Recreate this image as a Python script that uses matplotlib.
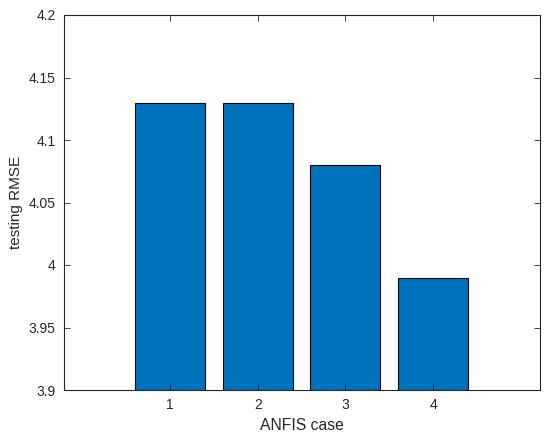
import matplotlib
matplotlib.use("Agg")
import matplotlib.pyplot as plt

cases = [1, 2, 3, 4]
rmse = [4.13, 4.13, 4.08, 3.99]
yticks = [3.9, 3.95, 4.0, 4.05, 4.1, 4.15, 4.2]
ytick_labels = ["3.9", "3.95", "4", "4.05", "4.1", "4.15", "4.2"]

plt.rcParams['font.family'] = ['Liberation Sans', 'DejaVu Sans']

fig = plt.figure(figsize=(5.5, 4.38), dpi=100)
ax = fig.add_axes([64/550, 1-390/438, (540-64)/550, (390-15)/438])

ax.bar(cases, rmse, width=0.8, color='#0072BD', edgecolor='black', linewidth=0.8)
ax.set_xlim(-0.21, 5.22)
ax.set_ylim(3.9, 4.2)
ax.set_xticks(cases)
ax.set_xticklabels([str(c) for c in cases])
ax.set_yticks(yticks)
ax.set_yticklabels(ytick_labels)

ax.tick_params(direction='in', top=True, right=True, length=4, width=0.6,
               labelsize=10, colors='#262626', labelcolor='#262626', pad=6)
for s in ax.spines.values():
    s.set_linewidth(0.8)
    s.set_color('#262626')

ax.set_xlabel('ANFIS case', fontsize=11.3, color='#262626', labelpad=4)
ax.set_ylabel('testing RMSE', fontsize=11, color='#262626', labelpad=4)

fig.savefig('out.png', dpi=100)
